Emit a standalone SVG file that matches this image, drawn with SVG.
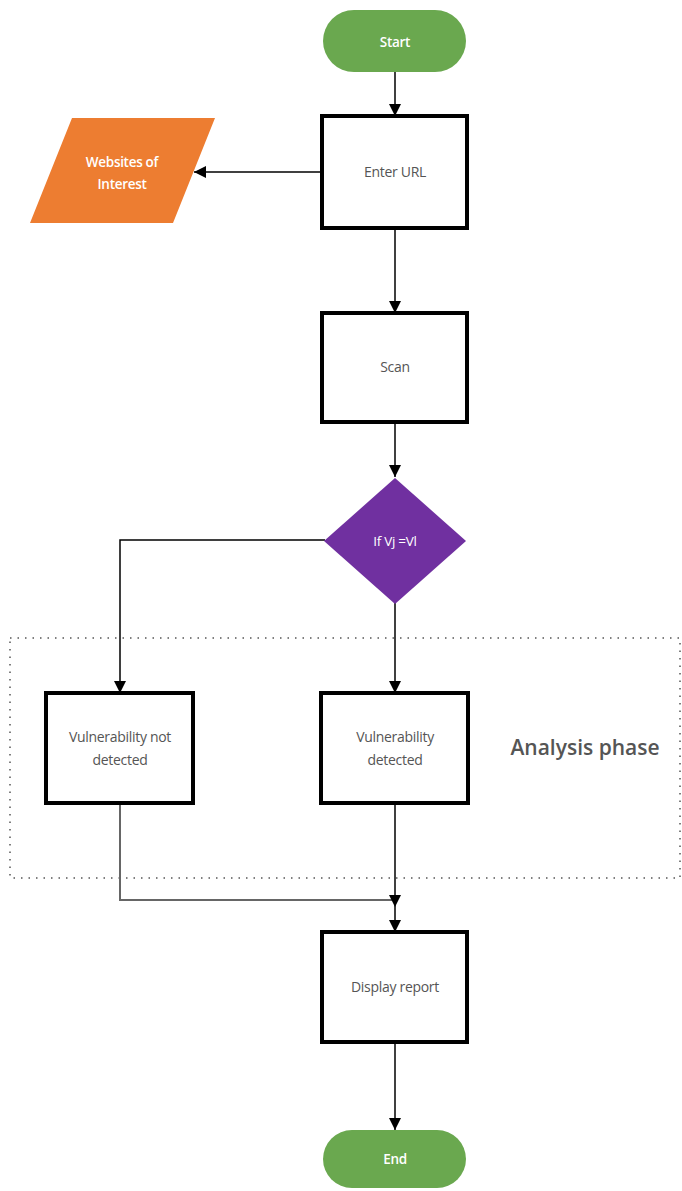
<svg xmlns="http://www.w3.org/2000/svg" width="682" height="1191" viewBox="0 0 682 1191">
<defs>
<marker id="ahb" viewBox="0 0 12 12" refX="12" refY="6" markerWidth="12" markerHeight="12" markerUnits="userSpaceOnUse" orient="auto">
<path d="M0,0 L12,6 L0,12 Z" fill="#000"/>
</marker>
</defs>
<style>
.box{fill:#fff;stroke:#000;stroke-width:4}
.lbl{font-family:"Open Sans","Liberation Sans",sans-serif;font-size:14px;fill:#555;text-anchor:middle;letter-spacing:-0.3px}
.wlbl{font-family:"Open Sans","Liberation Sans",sans-serif;font-size:13.5px;fill:#fff;font-weight:600;text-anchor:middle;letter-spacing:-0.3px}
.dlbl{font-family:"Open Sans","Liberation Sans",sans-serif;font-size:13.5px;fill:#fff;text-anchor:middle;letter-spacing:-0.3px}
.term{fill:#6aa84f}
.conn{fill:none;stroke:#000;stroke-width:1.5}
.grey{fill:none;stroke:#666;stroke-width:2}
</style>
<rect width="682" height="1191" fill="#fff"/>
<g id="analysis-phase">
<rect x="10" y="638" width="670" height="240" fill="none" stroke="#555" stroke-width="1.5" stroke-dasharray="1.5,6"/>
<text x="585" y="755" font-family="Open Sans, Liberation Sans, sans-serif" font-size="21" font-weight="600" fill="#555" text-anchor="middle">Analysis phase</text>
</g>
<g id="connectors">
<line class="conn" x1="395" y1="72" x2="395" y2="116" marker-end="url(#ahb)"/>
<line class="conn" x1="322" y1="172" x2="194" y2="172" marker-end="url(#ahb)"/>
<line class="conn" x1="395" y1="228" x2="395" y2="313" marker-end="url(#ahb)"/>
<line class="conn" x1="395" y1="422" x2="395" y2="477" marker-end="url(#ahb)"/>
<polyline class="conn" points="325,540 120,540 120,693" marker-end="url(#ahb)"/>
<line class="conn" x1="395" y1="603" x2="395" y2="693" marker-end="url(#ahb)"/>
<polyline class="grey" points="120,803 120,900 395,900"/>
<line class="conn" x1="395" y1="803" x2="395" y2="907" marker-end="url(#ahb)"/>
<line class="conn" x1="395" y1="907" x2="395" y2="932" marker-end="url(#ahb)"/>
<line class="conn" x1="395" y1="1042" x2="395" y2="1130" marker-end="url(#ahb)"/>
</g>
<g id="start">
<rect class="term" x="323" y="10" width="143" height="62" rx="31"/>
<text class="wlbl" x="395" y="47">Start</text>
</g>
<g id="enter-url">
<rect class="box" x="322" y="116" width="145" height="112"/>
<text class="lbl" x="395" y="177">Enter URL</text>
</g>
<g id="websites">
<polygon points="72,118 215,118 173,223 30,223" fill="#ed7d31"/>
<text class="wlbl" x="122" y="167">Websites of</text>
<text class="wlbl" x="122" y="189">Interest</text>
</g>
<g id="scan">
<rect class="box" x="322" y="313" width="145" height="109"/>
<text class="lbl" x="395" y="372">Scan</text>
</g>
<g id="decision">
<polygon points="395,478 466,541 395,604 324,541" fill="#7030a0"/>
<text class="dlbl" x="395" y="546">If Vj =Vl</text>
</g>
<g id="vuln-not-detected">
<rect class="box" x="46" y="693" width="147" height="110"/>
<text class="lbl" x="120" y="742">Vulnerability not</text>
<text class="lbl" x="120" y="765">detected</text>
</g>
<g id="vuln-detected">
<rect class="box" x="321" y="693" width="147" height="110"/>
<text class="lbl" x="395" y="742">Vulnerability</text>
<text class="lbl" x="395" y="765">detected</text>
</g>
<g id="display-report">
<rect class="box" x="322" y="932" width="145" height="110"/>
<text class="lbl" x="395" y="992">Display report</text>
</g>
<g id="end">
<rect class="term" x="323" y="1130" width="143" height="58" rx="29"/>
<text class="wlbl" x="395" y="1164">End</text>
</g>
</svg>
